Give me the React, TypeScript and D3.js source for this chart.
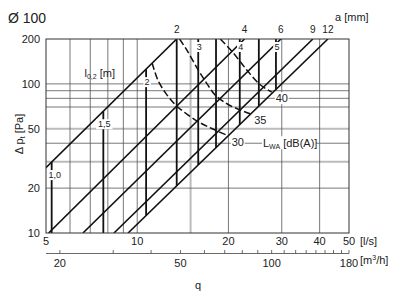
import React from "react";
import * as d3 from "d3";

// a [mm] lines: flow (l/s) where each line crosses 10 Pa and 200 Pa
const aValues = [2, 4, 6, 9, 12];
const aQat10 = [3.02, 5.1, 6.62, 8.38, 9.33];
const aQat200 = [13.5, 22.6, 29.8, 38.0, 42.6];

// throw l0,2 [m] verticals
const throwValues = [1.0, 1.5, 2, 2.5, 3, 3.5, 4, 4.5, 5];
const throwLabels = ["1,0", "1,5", "2", "", "3", "", "4", "", "5"];
const throwQ = [5.22, 7.73, 10.7, 13.5, 15.9, 18.2, 21.8, 25.2, 28.7];

// sound power L_WA [dB(A)] curves
const lwaLevels = [30, 35, 40];
const lwa30Q = [11.2, 11.7, 12.4, 13.4, 14.7, 16.1, 17.7, 19.9];
const lwa30P = [138, 106, 87, 72, 62, 55, 50, 45];
const lwa35Q = [13.8, 14.7, 15.9, 16.9, 18.1, 19.9, 21.8, 23.6];
const lwa35P = [200, 164, 124, 102, 84, 73, 67, 63];
const lwa40Q = [18.8, 20.6, 23.0, 25.4, 27.8];
const lwa40P = [200, 164, 124, 99, 88];

const xTickLabels = [5, 10, 20, 30, 40, 50];
const xGridDark = [6, 7, 8, 9, 10, 20, 30, 40];
const xGridGray = [15];
const yTickLabels = [10, 20, 50, 100, 200];
const yGridDark = [20, 40, 80, 90, 100];
const yGridGray = [30, 50, 70];
const m3hTicks = [20, 30, 40, 50, 60, 70, 80, 90, 100, 110, 120, 130, 140, 150, 160, 170, 180];
const m3hLabels = [20, 50, 100, 180];

const FONT = "'Liberation Sans', Arial, Helvetica, sans-serif";
const TXT = "#222";

export default function App() {
  const x = d3.scaleLog().domain([5, 50]).range([46, 349]);
  const y = d3.scaleLog().domain([10, 200]).range([233, 39]);
  const xm3h = (v: number) => x(v / 3.6);

  // pressure on a given a-line at flow q (straight in log-log)
  const pAt = (i: number, q: number) => {
    const t = (Math.log(q) - Math.log(aQat10[i])) / (Math.log(aQat200[i]) - Math.log(aQat10[i]));
    return Math.exp(Math.log(10) + t * (Math.log(200) - Math.log(10)));
  };
  const last = aValues.length - 1;

  const curves = [
    { level: lwaLevels[0], q: lwa30Q, p: lwa30P },
    { level: lwaLevels[1], q: lwa35Q, p: lwa35P },
    { level: lwaLevels[2], q: lwa40Q, p: lwa40P },
  ];
  const line = d3
    .line<[number, number]>()
    .x((d) => x(d[0]))
    .y((d) => y(d[1]))
    .curve(d3.curveCatmullRom);

  const [x0, x1] = x.range();
  const [y0, y1] = y.range();

  return (
    <svg
      width={400}
      height={300}
      style={{ position: "absolute", left: 0, top: 0, background: "#fff" }}
      fontFamily={FONT}
    >
      <defs>
        <clipPath id="plot">
          <rect x={x0} y={y1} width={x1 - x0} height={y0 - y1} />
        </clipPath>
      </defs>

      <text x={8} y={23} fontSize={14} fill={TXT}>Ø 100</text>

      {/* grid */}
      {xGridGray.map((v) => (
        <line key={"xg" + v} x1={x(v)} x2={x(v)} y1={y1} y2={y0} stroke="#bbb" strokeWidth={2} />
      ))}
      {yGridGray.map((v) => (
        <line key={"yg" + v} x1={x0} x2={x1} y1={y(v)} y2={y(v)} stroke="#bbb" strokeWidth={2} />
      ))}
      {xGridDark.map((v) => (
        <line key={"xd" + v} x1={x(v)} x2={x(v)} y1={y1} y2={y0} stroke="#555" strokeWidth={0.8} />
      ))}
      {yGridDark.map((v) => (
        <line key={"yd" + v} x1={x0} x2={x1} y1={y(v)} y2={y(v)} stroke="#555" strokeWidth={0.8} />
      ))}

      <g clipPath="url(#plot)">
        {/* a [mm] lines */}
        {aValues.map((a, i) => (
          <line
            key={"a" + a}
            x1={x(aQat10[i])}
            y1={y(10)}
            x2={x(aQat200[i])}
            y2={y(200)}
            stroke="#111"
            strokeWidth={1.6}
          />
        ))}
        {/* throw verticals */}
        {throwValues.map((l, i) => {
          const q = throwQ[i];
          const top = Math.min(200, pAt(0, q));
          const bot = Math.max(10, pAt(last, q));
          return (
            <line key={"l" + l} x1={x(q)} x2={x(q)} y1={y(top)} y2={y(bot)} stroke="#111" strokeWidth={1.8} />
          );
        })}
        {/* L_WA dashed */}
        {curves.map((c) => (
          <path
            key={"c" + c.level}
            d={line(c.q.map((q, j) => [q, c.p[j]] as [number, number])) || ""}
            fill="none"
            stroke="#111"
            strokeWidth={1.5}
            strokeDasharray="7,3"
          />
        ))}
      </g>

      {/* throw labels */}
      {throwValues.map((l, i) => {
        const lab = throwLabels[i];
        if (!lab) return null;
        const q = throwQ[i];
        const top = Math.min(200, pAt(0, q));
        const cy = y(top) + (top >= 200 ? 8 : 13);
        const cx = x(q) + (i === 0 ? 3 : 1);
        const w = lab.length * 4.5 + 3;
        return (
          <g key={"tl" + l}>
            <rect x={cx - w / 2} y={cy - 5} width={w} height={10} fill="#fff" />
            <text x={cx} y={cy + 3} fontSize={9} textAnchor="middle" fill={TXT}>{lab}</text>
          </g>
        );
      })}

      {/* L_WA labels */}
      {curves.map((c) => {
        const n = c.q.length - 1;
        const px = x(c.q[n]) + 4;
        const py = y(c.p[n]) + 6;
        return (
          <g key={"cl" + c.level}>
            <rect x={px - 1} y={py - 6} width={14} height={12} fill="#fff" />
            <text x={px} y={py + 4} fontSize={11} fill={TXT}>{c.level}</text>
          </g>
        );
      })}
      <g>
        <rect x={x(26) - 1} y={y(40) - 7} width={54} height={13} fill="#fff" />
        <text x={x(26)} y={y(40) + 4} fontSize={11} fill={TXT}>
          L<tspan fontSize={7} dy={2}>WA</tspan>
          <tspan dy={-2}> [dB(A)]</tspan>
        </text>
      </g>

      <text x={x(6.7)} y={y(111)} fontSize={11} fill={TXT}>
        l<tspan fontSize={7} dy={2}>0,2</tspan>
        <tspan dy={-2}> [m]</tspan>
      </text>

      {/* frame */}
      <rect x={x0} y={y1} width={x1 - x0} height={y0 - y1} fill="none" stroke="#333" strokeWidth={1} />

      {/* a [mm] top labels */}
      <text x={335} y={21} fontSize={11} fill={TXT}>a [mm]</text>
      {aValues.map((a, i) => (
        <text key={"al" + a} x={x(aQat200[i])} y={33} fontSize={10} textAnchor="middle" fill={TXT}>{a}</text>
      ))}

      {/* y axis */}
      {yTickLabels.map((v) => (
        <text key={"yt" + v} x={x0 - 6} y={y(v) + 4} fontSize={11} textAnchor="end" fill={TXT}>{v}</text>
      ))}
      <text transform={`translate(23,${134}) rotate(-90)`} fontSize={11} textAnchor="middle" fill={TXT}>
        Δ p<tspan fontSize={7} dy={2}>t</tspan>
        <tspan dy={-2}> [Pa]</tspan>
      </text>

      {/* x axis l/s */}
      {xTickLabels.map((v) => (
        <text key={"xt" + v} x={x(v)} y={245} fontSize={11} textAnchor="middle" fill={TXT}>{v}</text>
      ))}
      <text x={360} y={245} fontSize={11} fill={TXT}>[l/s]</text>

      {/* secondary axis m3/h */}
      <line x1={x0} x2={x1} y1={253.5} y2={253.5} stroke="#444" strokeWidth={0.8} />
      {m3hTicks.map((v) => (
        <line key={"mt" + v} x1={xm3h(v)} x2={xm3h(v)} y1={250} y2={253.5} stroke="#444" strokeWidth={0.8} />
      ))}
      {m3hLabels.map((v) => (
        <text key={"ml" + v} x={xm3h(v)} y={267} fontSize={11} textAnchor="middle" fill={TXT}>{v}</text>
      ))}
      <text x={360} y={264} fontSize={11} fill={TXT}>
        [m<tspan fontSize={7} dy={-4}>3</tspan>
        <tspan dy={4}>/h]</tspan>
      </text>

      <text x={198} y={289} fontSize={11} textAnchor="middle" fill={TXT}>q</text>
    </svg>
  );
}
